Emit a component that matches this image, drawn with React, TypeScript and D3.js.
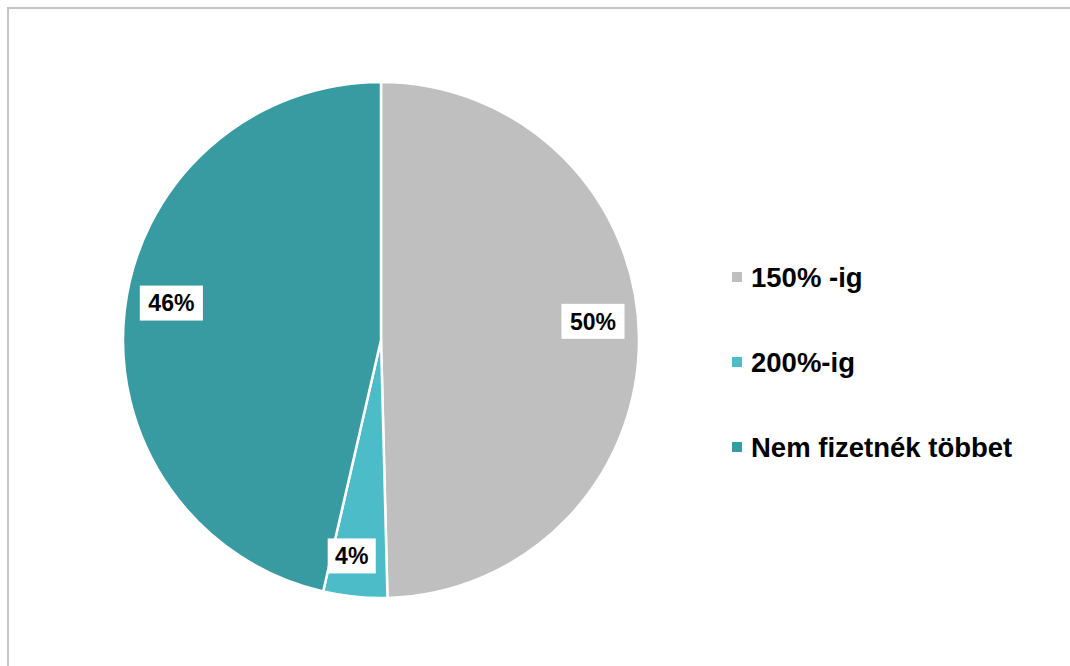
import React from "react";
import * as d3 from "d3";

const categories = ["150% -ig", "200%-ig", "Nem fizetnék többet"];
const values = [49.6, 4.0, 46.4];
const labels = ["50%", "4%", "46%"];
const colors = ["#bfbfbf", "#4bbcc8", "#389ba2"];

const W = 1070;
const H = 666;
const cx = 381;
const cy = 340;
const R = 258;
const labelR = 212;
const labelNudge: [number, number][] = [
  [0, -16],
  [-8, 5],
  [1, -13],
];

export default function App() {
  const pie = d3
    .pie<number>()
    .sort(null)
    .value((d) => d);
  const arcs = pie(values);
  const arcGen = d3.arc<d3.PieArcDatum<number>>().innerRadius(0).outerRadius(R);
  const labelArc = d3
    .arc<d3.PieArcDatum<number>>()
    .innerRadius(labelR)
    .outerRadius(labelR);

  const font = "'Liberation Sans', Arial, Helvetica, sans-serif";
  const labelFs = 23;
  const legendFs = 27.5;
  const legendY = d3.scalePoint<string>().domain(categories).range([287, 457]);

  return (
    <svg
      width={W}
      height={H}
      style={{ position: "absolute", left: 0, top: 0, background: "#fff" }}
      fontFamily={font}
    >
      <rect x={0} y={0} width={W} height={H} fill="#fff" />
      <rect
        x={8}
        y={8}
        width={W + 20}
        height={H + 20}
        fill="none"
        stroke="#c4c4c4"
        strokeWidth={2}
      />
      <g transform={`translate(${cx},${cy})`}>
        {arcs.map((a, i) => (
          <path
            key={i}
            d={arcGen(a) || ""}
            fill={colors[i]}
            stroke="#fff"
            strokeWidth={2.5}
            strokeLinejoin="round"
          />
        ))}
        {arcs.map((a, i) => {
          const [x0, y0] = labelArc.centroid(a);
          const x = x0 + labelNudge[i][0];
          const y = y0 + labelNudge[i][1];
          const tw = labels[i].length * 0.667 * labelFs * 0.98;
          const bw = tw + 18;
          const bh = 35;
          return (
            <g key={"l" + i} transform={`translate(${x},${y})`}>
              <rect x={-bw / 2} y={-bh / 2} width={bw} height={bh} fill="#fff" />
              <text
                textAnchor="middle"
                dy="0.36em"
                fontSize={labelFs}
                fontWeight="bold"
                fill="#000"
              >
                {labels[i]}
              </text>
            </g>
          );
        })}
      </g>
      <g>
        {categories.map((c, i) => {
          const by = legendY(c) || 0;
          return (
            <g key={"lg" + i}>
              <rect x={732} y={by - 15} width={10} height={10} fill={colors[i]} />
              <text x={751} y={by} fontSize={legendFs} fontWeight="bold" fill="#000">
                {c}
              </text>
            </g>
          );
        })}
      </g>
    </svg>
  );
}
